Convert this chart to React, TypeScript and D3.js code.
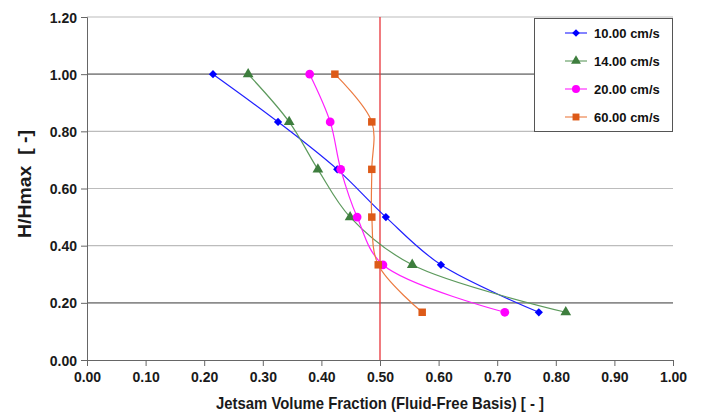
import React, { useEffect, useRef } from 'react';
import * as d3 from 'd3';

const heights = [1.0, 0.833, 0.667, 0.5, 0.333, 0.167];
const v10 = [0.215, 0.326, 0.427, 0.51, 0.604, 0.771];
const v14 = [0.275, 0.345, 0.394, 0.449, 0.555, 0.817];
const v20 = [0.38, 0.415, 0.433, 0.461, 0.505, 0.713];
const v60 = [0.423, 0.486, 0.486, 0.486, 0.497, 0.572];
const seriesNames = ['10.00 cm/s', '14.00 cm/s', '20.00 cm/s', '60.00 cm/s'];
const xTicks = [0, 0.1, 0.2, 0.3, 0.4, 0.5, 0.6, 0.7, 0.8, 0.9, 1.0];
const yTicks = [0, 0.2, 0.4, 0.6, 0.8, 1.0, 1.2];
const refX = 0.5;

const W = 702;
const H = 416;
const margin = { left: 87, right: 29, top: 17, bottom: 56 };

const App = () => {
  const ref = useRef<SVGSVGElement>(null);

  useEffect(() => {
    const svg = d3.select(ref.current);
    svg.selectAll('*').remove();

    const x = d3.scaleLinear().domain([0, 1]).range([margin.left, W - margin.right]);
    const y = d3.scaleLinear().domain([0, 1.2]).range([H - margin.bottom, margin.top]);
    const font = 'Arial, "Liberation Sans", sans-serif';
    const dark = (d: number) => Math.abs(d - 1) < 1e-6 || Math.abs(d - 0.2) < 1e-6;

    // grid lines
    svg.append('g').selectAll('line')
      .data(yTicks.filter((t) => t > 0))
      .enter().append('line')
      .attr('x1', x(0)).attr('x2', x(1))
      .attr('y1', (d) => y(d)).attr('y2', (d) => y(d))
      .attr('stroke', (d) => (dark(d) ? '#8c8c8c' : '#bcbcbc'))
      .attr('stroke-width', (d) => (dark(d) ? 1.6 : 1.1));

    // axes
    const yAxis = d3.axisLeft(y).tickValues(yTicks).tickSize(6).tickFormat(d3.format('.2f'));
    const xAxis = d3.axisBottom(x).tickValues(xTicks).tickSize(6).tickFormat(d3.format('.2f'));
    const gy = svg.append('g').attr('transform', `translate(${x(0)},0)`).call(yAxis);
    const gx = svg.append('g').attr('transform', `translate(0,${y(0)})`).call(xAxis);
    [gx, gy].forEach((g) => {
      g.select('.domain').attr('stroke', '#666');
      g.selectAll('.tick line').attr('stroke', '#666');
      g.selectAll('.tick text')
        .style('font-family', font).style('font-size', '14px')
        .style('font-weight', 'bold').attr('fill', '#1a1a1a');
    });
    gy.selectAll('.tick text').attr('x', -10).attr('dy', '0.36em');
    gx.selectAll('.tick text').attr('y', 12);

    // reference line
    svg.append('line')
      .attr('x1', x(refX)).attr('x2', x(refX))
      .attr('y1', y(1.2)).attr('y2', y(0))
      .attr('stroke', '#e8333a').attr('stroke-width', 1.3);

    const series = [
      { name: seriesNames[0], vals: v10, line: '#2020ff', fill: '#0000ff', shape: d3.symbolSquare, size: 34, rot: 45 },
      { name: seriesNames[1], vals: v14, line: '#5d9a5d', fill: '#3e7e3e', shape: d3.symbolTriangle, size: 50, rot: 0 },
      { name: seriesNames[2], vals: v20, line: '#ff20ff', fill: '#ff00ff', shape: d3.symbolCircle, size: 60, rot: 0 },
      { name: seriesNames[3], vals: v60, line: '#ec7a40', fill: '#dd5a18', shape: d3.symbolSquare, size: 56, rot: 0 },
    ];

    const line = d3.line<[number, number]>()
      .x((d) => x(d[0])).y((d) => y(d[1]))
      .curve(d3.curveCatmullRom.alpha(0.5));

    series.forEach((s) => {
      const pts: [number, number][] = s.vals.map((v, i) => [v, heights[i]]);
      svg.append('path')
        .attr('d', line(pts))
        .attr('fill', 'none')
        .attr('stroke', s.line)
        .attr('stroke-width', 1.2);
      svg.append('g').selectAll('path')
        .data(pts)
        .enter().append('path')
        .attr('transform', (d) => `translate(${x(d[0])},${y(d[1])}) rotate(${s.rot})`)
        .attr('d', d3.symbol().type(s.shape).size(s.size)())
        .attr('fill', s.fill);
    });

    // legend
    const lg = svg.append('g');
    lg.append('rect')
      .attr('x', 534.5).attr('y', 18.5)
      .attr('width', 138).attr('height', 113)
      .attr('fill', '#fff').attr('stroke', '#555').attr('stroke-width', 1);
    series.forEach((s, i) => {
      const cy = 33 + i * 28;
      lg.append('line')
        .attr('x1', 565).attr('x2', 587)
        .attr('y1', cy).attr('y2', cy)
        .attr('stroke', s.line).attr('stroke-width', 1.1);
      lg.append('path')
        .attr('transform', `translate(576,${cy}) rotate(${s.rot})`)
        .attr('d', d3.symbol().type(s.shape).size(s.size * 0.85)())
        .attr('fill', s.fill);
      lg.append('text')
        .attr('x', 594).attr('y', cy + 5)
        .text(s.name)
        .style('font-family', font).style('font-size', '13px')
        .style('font-weight', 'bold').attr('fill', '#111');
    });

    // axis titles
    svg.append('text')
      .attr('x', x(0.5)).attr('y', 409)
      .attr('text-anchor', 'middle')
      .attr('textLength', 328).attr('lengthAdjust', 'spacingAndGlyphs')
      .text('Jetsam Volume Fraction (Fluid-Free Basis) [ - ]')
      .style('font-family', font).style('font-size', '17px')
      .style('font-weight', 'bold').attr('fill', '#1a1a1a');

    svg.append('text')
      .attr('transform', `translate(31,184) rotate(-90)`)
      .attr('text-anchor', 'middle')
      .attr('textLength', 108).attr('lengthAdjust', 'spacingAndGlyphs')
      .text('H/Hmax  [ -]')
      .style('font-family', font).style('font-size', '17.5px')
      .style('font-weight', 'bold').style('white-space', 'pre').attr('fill', '#1a1a1a');
  }, []);

  return (
    <svg ref={ref} width={W} height={H} style={{ position: 'absolute', left: 0, top: 0, background: '#fff' }} />
  );
};

export default App;
